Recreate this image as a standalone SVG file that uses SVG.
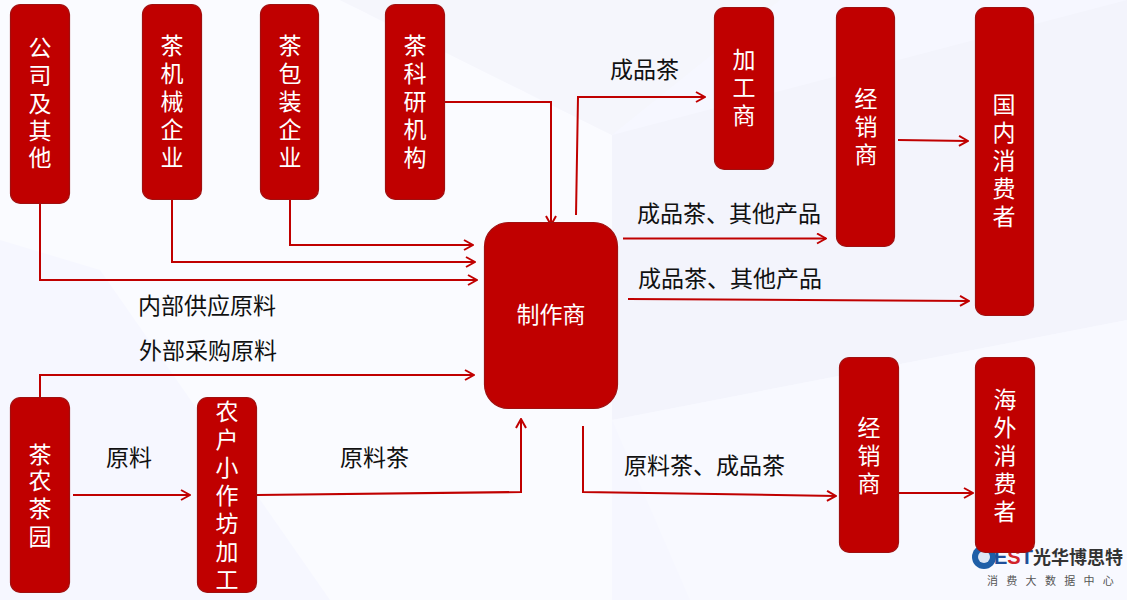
<svg xmlns="http://www.w3.org/2000/svg" width="1127" height="600" viewBox="0 0 1127 600">
<defs>
<style>
.n{fill:#c00000;stroke:#a01010;stroke-width:1.2}
.v{font:23px "Noto Sans CJK SC","Noto Sans",sans-serif;fill:#fff;text-anchor:middle;dominant-baseline:central}
.l{font:23px "Noto Sans CJK SC","Noto Sans",sans-serif;fill:#111;dominant-baseline:central}
.c{fill:none;stroke:#c00000;stroke-width:2;marker-end:url(#a)}
</style>
<marker id="a" viewBox="0 0 12 12" refX="11" refY="6" markerWidth="12" markerHeight="12" markerUnits="userSpaceOnUse" orient="auto">
<path d="M2 1L11 6L2 11" fill="none" stroke="#c00000" stroke-width="2"/>
</marker>
</defs>
<rect width="1127" height="600" fill="#f6f7ff"/>
<polygon points="0,0 340,0 612,135 612,600 330,600 100,270 0,240" fill="#fafbff"/>
<polygon points="340,0 780,0 612,135" fill="#f5f6fc"/>
<polygon points="612,135 1127,0 1127,320 612,420" fill="#f3f4fc"/>
<polygon points="612,420 1127,320 1127,600 690,600" fill="#f8f9ff"/>
<g id="connectors">
<path class="c" d="M40 204V280H477"/>
<path class="c" d="M172 200V262H475"/>
<path class="c" d="M290 200V245H473"/>
<path class="c" d="M445 102H551V225"/>
<path class="c" d="M576 215L578 97H705"/>
<path class="c" d="M623 238.500H826"/>
<path class="c" d="M628 299L969 301"/>
<path class="c" d="M898 140L968 141"/>
<path class="c" d="M40 397V375H474"/>
<path class="c" d="M73 495H190"/>
<path class="c" d="M257 495L521 492V419"/>
<path class="c" d="M583 426V492L836 496"/>
<path class="c" d="M899 493H973"/>
</g>
<g id="logo">
<circle cx="984" cy="557" r="12" fill="#1f5fa8"/>
<circle cx="984" cy="557" r="6" fill="#dce6f5"/>
<text x="994" y="564" font-family="Liberation Sans,sans-serif" font-size="20" font-weight="700" fill="#1f4f98">E<tspan fill="#d2232a">S</tspan>T</text>
<text x="1033" y="556" font-family="Noto Sans CJK SC,sans-serif" font-size="18" font-weight="700" fill="#333" dominant-baseline="central">光华博思特</text>
<text x="987" y="580" font-family="Noto Sans CJK SC,sans-serif" font-size="11" letter-spacing="8.300" fill="#555" dominant-baseline="central">消费大数据中心</text>
</g>
<g id="n1"><rect class="n" x="10.500" y="4.500" width="59" height="199" rx="10"/><text class="v"><tspan x="40" y="46">公</tspan><tspan x="40" y="74">司</tspan><tspan x="40" y="102">及</tspan><tspan x="40" y="129">其</tspan><tspan x="40" y="156">他</tspan></text></g>
<g id="n2"><rect class="n" x="142.500" y="4.500" width="59" height="195" rx="10"/><text class="v"><tspan x="172" y="44">茶</tspan><tspan x="172" y="72">机</tspan><tspan x="172" y="100">械</tspan><tspan x="172" y="128">企</tspan><tspan x="172" y="156">业</tspan></text></g>
<g id="n3"><rect class="n" x="260.500" y="4.500" width="58" height="195" rx="10"/><text class="v"><tspan x="290" y="44">茶</tspan><tspan x="290" y="72">包</tspan><tspan x="290" y="100">装</tspan><tspan x="290" y="128">企</tspan><tspan x="290" y="156">业</tspan></text></g>
<g id="n4"><rect class="n" x="385.500" y="4.500" width="59" height="195" rx="10"/><text class="v"><tspan x="415" y="44">茶</tspan><tspan x="415" y="72">科</tspan><tspan x="415" y="100">研</tspan><tspan x="415" y="128">机</tspan><tspan x="415" y="156">构</tspan></text></g>
<g id="n5"><rect class="n" x="714.500" y="7.500" width="59" height="162" rx="10"/><text class="v"><tspan x="744" y="58">加</tspan><tspan x="744" y="86">工</tspan><tspan x="744" y="114">商</tspan></text></g>
<g id="n6"><rect class="n" x="836.500" y="7.500" width="58" height="239" rx="10"/><text class="v"><tspan x="866" y="97">经</tspan><tspan x="866" y="125">销</tspan><tspan x="866" y="153">商</tspan></text></g>
<g id="n7"><rect class="n" x="975.500" y="7.500" width="58" height="308" rx="10"/><text class="v"><tspan x="1004" y="103">国</tspan><tspan x="1004" y="131">内</tspan><tspan x="1004" y="159">消</tspan><tspan x="1004" y="187">费</tspan><tspan x="1004" y="215">者</tspan></text></g>
<g id="n8"><rect class="n" x="484.500" y="222.500" width="133" height="186" rx="24"/><text class="v" x="551" y="313">制作商</text></g>
<g id="n9"><rect class="n" x="839.500" y="357.500" width="59" height="195" rx="10"/><text class="v"><tspan x="869" y="426">经</tspan><tspan x="869" y="454">销</tspan><tspan x="869" y="482">商</tspan></text></g>
<g id="n10"><rect class="n" x="975.500" y="357.500" width="59" height="195" rx="10"/><text class="v"><tspan x="1005" y="398">海</tspan><tspan x="1005" y="426">外</tspan><tspan x="1005" y="454">消</tspan><tspan x="1005" y="482">费</tspan><tspan x="1005" y="510">者</tspan></text></g>
<g id="n11"><rect class="n" x="10.500" y="397.500" width="59" height="195" rx="10"/><text class="v"><tspan x="40" y="453">茶</tspan><tspan x="40" y="479">农</tspan><tspan x="40" y="507">茶</tspan><tspan x="40" y="535">园</tspan></text></g>
<g id="n12"><rect class="n" x="197.500" y="397.500" width="59" height="195" rx="10"/><text class="v"><tspan x="227" y="410">农</tspan><tspan x="227" y="438">户</tspan><tspan x="227" y="466">小</tspan><tspan x="227" y="494">作</tspan><tspan x="227" y="522">坊</tspan><tspan x="227" y="550">加</tspan><tspan x="227" y="578">工</tspan></text></g>
<g id="labels">
<text class="l" x="610" y="68">成品茶</text>
<text class="l" x="637" y="212">成品茶、其他产品</text>
<text class="l" x="638" y="277">成品茶、其他产品</text>
<text class="l" x="138" y="304">内部供应原料</text>
<text class="l" x="139" y="349">外部采购原料</text>
<text class="l" x="106" y="456">原料</text>
<text class="l" x="340" y="456">原料茶</text>
<text class="l" x="624" y="464">原料茶、成品茶</text>
</g>
</svg>
